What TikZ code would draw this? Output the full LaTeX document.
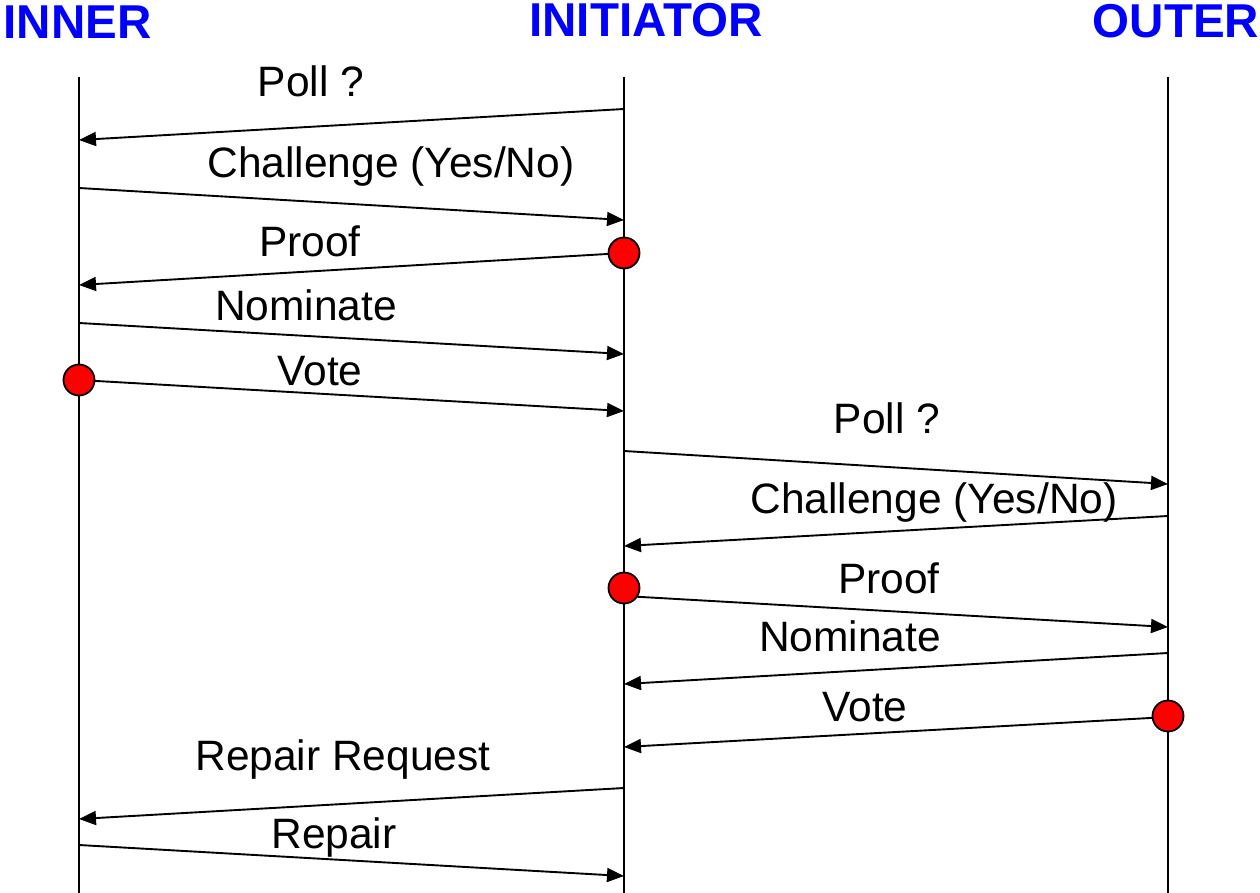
\documentclass[tikz,border=0pt]{standalone}
\usepackage{fontspec}
\setmainfont{Liberation Sans}
\usetikzlibrary{arrows.meta}
\definecolor{hdrblue}{RGB}{0,0,255}
\definecolor{mark}{RGB}{255,0,0}
\begin{document}
\begin{tikzpicture}[x=1pt,y=-1pt,
  lifeline/.style={line width=2.8pt},
  msg/.style={line width=1.9pt,-{Triangle[length=17pt,width=14pt]}},
  msglabel/.style={anchor=base,inner sep=0pt,font=\fontsize{42.5}{50}\selectfont},
  header/.style={anchor=base,inner sep=0pt,text=hdrblue,font=\fontsize{47.5}{56}\selectfont\bfseries},
  event/.style={circle,draw=black,line width=1.8pt,fill=mark,minimum size=31pt,inner sep=0pt}]
\useasboundingbox (0,0) rectangle (1260,893);

% participants
\node[header] (hinner) at (77.5,39) {INNER};
\node[header] (hinit)  at (646,37) {INITIATOR};
\node[header] (houter) at (1176,38) {OUTER};

% lifelines
\coordinate (Lt) at (79,77);   \coordinate (Lb) at (79,893);
\coordinate (It) at (624,77);  \coordinate (Ib) at (624,893);
\coordinate (Ot) at (1168,77); \coordinate (Ob) at (1168,893);
\draw[lifeline] (Lt) -- (Lb);
\draw[lifeline] (It) -- (Ib);
\draw[lifeline] (Ot) -- (Ob);

% message end points on the lifelines
\coordinate (a1) at (624,109);  \coordinate (b1) at (79,140);
\coordinate (a2) at (79,188);   \coordinate (b2) at (624,220);
\coordinate (a3) at (624,253);  \coordinate (b3) at (79,285);
\coordinate (a4) at (79,323);   \coordinate (b4) at (624,354);
\coordinate (a5) at (79,380);   \coordinate (b5) at (624,411);
\coordinate (a6) at (624,451);  \coordinate (b6) at (1168,484);
\coordinate (a7) at (1168,516); \coordinate (b7) at (624,546);
\coordinate (a8) at (624,596);  \coordinate (b8) at (1168,627);
\coordinate (a9) at (1168,653); \coordinate (b9) at (624,684);
\coordinate (a10) at (1168,717);\coordinate (b10) at (624,747);
\coordinate (a11) at (624,788); \coordinate (b11) at (79,819);
\coordinate (a12) at (79,845);  \coordinate (b12) at (624,876);

% messages
\draw[msg] (a1) -- (b1);
\draw[msg] (a2) -- (b2);
\draw[msg] (a3) -- (b3);
\draw[msg] (a4) -- (b4);
\draw[msg] (a5) -- (b5);
\draw[msg] (a6) -- (b6);
\draw[msg] (a7) -- (b7);
\draw[msg] (a8) -- (b8);
\draw[msg] (a9) -- (b9);
\draw[msg] (a10) -- (b10);
\draw[msg] (a11) -- (b11);
\draw[msg] (a12) -- (b12);

% event markers
\node[event] (e1) at (624,253) {};
\node[event] (e2) at (79,380) {};
\node[event] (e3) at (624,588) {};
\node[event] (e4) at (1168,716) {};

% message labels
\node[msglabel] (t1)  at (311,97)  {Poll ?};
\node[msglabel] (t2)  at (391,178) {Challenge (Yes/No)};
\node[msglabel] (t3)  at (310,257) {Proof};
\node[msglabel] (t4)  at (306,320) {Nominate};
\node[msglabel] (t5)  at (320,385) {Vote};
\node[msglabel] (t6)  at (887,433) {Poll ?};
\node[msglabel] (t7)  at (934,513) {Challenge (Yes/No)};
\node[msglabel] (t8)  at (889,593) {Proof};
\node[msglabel] (t9)  at (850,651) {Nominate};
\node[msglabel] (t10) at (865,721) {Vote};
\node[msglabel] (t11) at (343,770) {Repair Request};
\node[msglabel] (t12) at (334,848) {Repair};
\end{tikzpicture}
\end{document}
